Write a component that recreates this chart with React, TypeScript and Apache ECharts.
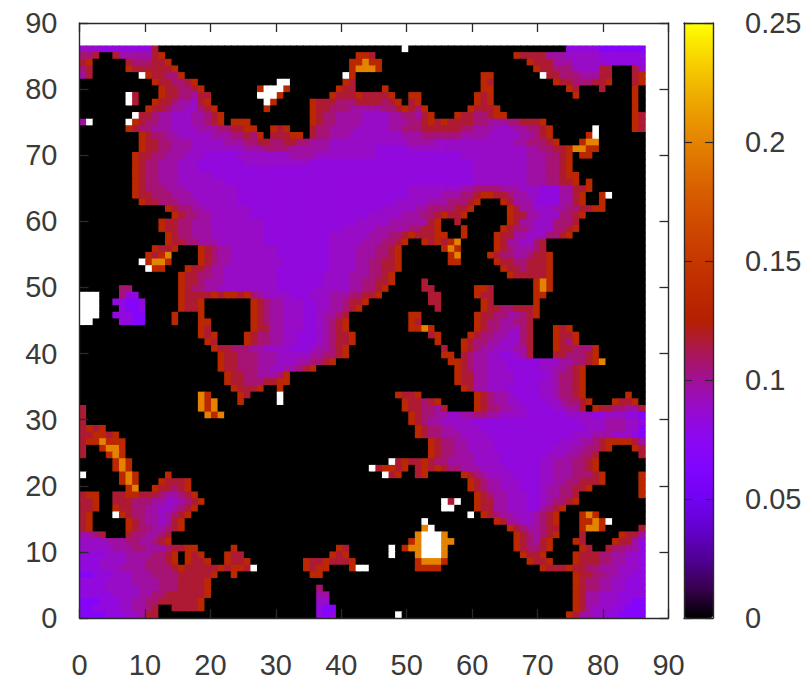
import React, { useEffect, useRef } from "react";
import * as echarts from "echarts";

// Colour-bar palette, bottom to top, in even steps of the bar
const paletteColors = ["#000000","#39004f","#510096","#6301ce","#7202f3","#8004ff","#8c07f3","#970bce","#a11096","#ab174f","#b42000","#bd2a00","#c63700","#ce4600","#d55700","#dd6c00","#e48300","#eb9d00","#f2ba00","#f9db00","#ffff00"];
const xTicks = [0, 90, 10];
const cbTicks = [0, 0.25, 0.05];
// Value of each letter used in the rows below (w lies above the colour range: white)
const levels: Record<string, number> = { ".": 0, f: 0.068, e: 0.082, d: 0.089, c: 0.097, b: 0.106, a: 0.117, o: 0.135, y: 0.2, w: 0.3 };
// Rows from the top (y=85) to the bottom (y=0): letter + first column of the run
const rows = [
"d0 e3 a11 .12 w49 .50 e74 f79",
"b0 a2 .3 a5 c6 a11 o12 .13 o42 a44 .45 o66 a67 c71 d74 e79",
"a0 o1 .2 a7 b8 a11 o13 .14 o41 y43 o44 .46 o68 a69 c72 d75 e80",
"b0 a1 .2 o7 a8 a12 o14 .15 o41 y42 o45 .46 o69 a70 b72 d75 a79 .81 a84 d85",
"c0 a1 .2 w9 o10 a11 b13 o15 .16 w40 o41 .42 o61 .63 w70 a71 b73 c76 a79 .81 a84 o85",
".0 o11 a12 b14 a16 o17 .18 w30 .32 o40 a41 .42 o61 a62 .63 o72 a73 b75 a78 o80 .81 a84 o85",
".0 o12 a13 b15 a17 o18 .19 o27 w28 o31 .32 o39 a40 .42 o46 .47 o61 .63 o74 a75 .76 a79 .80 o84 .85",
".0 w7 a8 .9 o12 a13 b15 c17 a18 .20 w27 o30 .31 o38 a39 o42 a43 o47 .48 o50 .52 o60 a61 o62 .63 o75 .76 o84 .85",
".0 w7 a8 .9 o11 a12 b14 c15 d17 a18 o19 .20 w28 o29 .30 o35 a36 b39 a42 b46 a47 o48 .49 a50 o51 .52 o60 a61 o62 .63 o84 .85",
".0 o10 a11 b13 c14 d16 b18 a19 o20 .21 o28 .29 o35 a36 b38 c41 b46 a48 o49 a50 b51 o52 .53 o59 a60 o63 .64 o84 .85",
".0 w8 a9 b11 c12 d14 c17 b19 a20 o21 .22 o35 a36 b37 c39 d43 c47 b49 c51 a52 o53 .54 o57 a58 b60 a62 o63 .65 o84 a85",
"c0 w1 .2 w7 o8 a9 b10 c12 d14 c17 b19 a20 o21 .22 o23 .26 o35 a36 b37 c39 d43 c47 b50 a52 o53 a54 o55 a56 b60 c62 b65 a67 o70 .71 o84 a85",
".0 o7 a8 b9 c11 d14 c18 b21 a23 o25 .27 o29 a30 o31 .32 a35 b36 c38 d42 c47 b49 a52 b58 c60 d63 c66 b68 a70 o71 .72 w78 .79 o84 a85",
".0 o9 a10 b11 c13 d15 c20 b23 a25 b26 o27 .28 a29 o32 .34 a35 b36 c38 d41 c49 b52 c58 d62 c67 b69 a70 o71 .72 o77 w78 .79",
".0 o9 a10 b12 c14 d17 c22 b25 a27 b29 a31 b33 c35 d38 c50 d54 c66 b68 a71 o72 .73 o76 y77 .79",
".0 o9 a10 b12 c14 d17 c25 b28 c32 d38 e45 d50 c68 b70 a72 o74 y75 o77 .79",
".0 o8 a9 b11 c13 d16 e19 d24 c32 d36 e45 d58 c68 b71 a73 o74 .75 o76 .78",
".0 o8 a9 b10 c12 d15 e18 d25 e35 d60 c68 b71 a73 o74 .75",
".0 o8 a9 b10 c12 d15 e18 d60 c68 b71 a73 o74 .75",
".0 o8 a9 b10 c12 d15 e20 d60 c68 b71 a73 o74 .76",
".0 o8 a9 b10 c12 d15 e22 d60 c68 b71 a73 o75 .76 o77 .78",
".0 o8 a9 b10 c13 d16 e24 d50 c58 b60 c64 d67 e70 c73 a75 o77 .78",
".0 o8 a9 b11 c14 d17 e24 d50 c55 b58 a60 o61 a63 b65 c66 d68 e70 c73 a75 o76 .77 o79 w80 .81",
".0 o9 a10 b12 c15 d18 e24 d48 c53 b56 a59 o60 .61 o64 a65 c66 e69 c73 a75 o76 .77 o79 .80",
".0 o13 a14 b15 c17 d19 e26 d46 c51 b53 a57 o59 .60 o65 a66 c67 d69 c72 b74 a76 o78 .80",
".0 o14 a15 b16 c18 d20 e26 d44 c49 b52 a54 o55 a56 o58 .59 o65 a66 c68 d70 b73 a75 o76 .77",
".0 o12 a13 b15 c17 d20 e28 d42 c47 a53 o54 .55 a57 .58 o65 a66 c67 d69 b72 a75 .76",
".0 o12 a13 b15 c17 d20 e28 d40 c45 b50 a52 o54 .55 o58 .59 o64 a65 b66 c68 d69 b72 a74 o75 .76",
".0 o13 a14 b15 c17 d20 e28 d38 c44 b47 a49 o50 a51 o54 .56 o58 .59 o63 a64 c66 d68 b71 a73 o74 .75",
".0 o13 a14 b16 c18 d21 e28 d38 c43 b46 a48 o49 .50 o52 a53 o54 a55 o56 y57 .58 o63 a64 c65 d67 b69 a70 .71",
".0 o11 a12 o14 .15 o18 a19 b20 c21 d23 e30 d38 c42 b45 a47 o48 .49 o55 y56 o57 .58 o63 a64 b65 c66 b69 a70 .71",
".0 o10 a11 o12 y13 .14 o18 a19 b20 c21 d23 e30 d38 c42 b45 a47 o48 .49 o56 y57 .58 o62 a63 b64 c66 b68 a69 o71 .72",
".0 w9 o10 y11 o13 .14 o18 a19 b20 c21 d23 e31 d38 c42 b44 a46 o48 .49 o56 .58 o63 a64 b66 a68 o71 .72",
".0 w10 o11 .13 o16 a17 b19 c20 d22 e30 d38 c42 b44 a46 o48 .49 o64 a65 b67 a68 o71 .72",
".0 o15 a16 b18 c20 d22 e30 d37 c41 b44 a46 o47 .48 o65 a66 o71 .72",
".0 o15 a16 b18 c19 d22 e30 d37 c41 b43 a45 o47 .48 a52 .53 o69 y70 o71 .72",
".0 b6 .8 o15 a16 b17 c19 d21 e30 d36 c41 b43 a45 o46 .47 a52 .54 o60 a62 .63 o69 y70 o71 .72",
"w0 .3 b6 e7 .9 o15 a16 a19 o20 a21 o22 a24 o25 b26 c27 d28 e32 d35 c38 b41 a43 o45 .46 a53 .55 o60 a61 .63 o69 .71",
"w0 .3 e5 f7 e9 .10 o15 a16 o18 .19 o26 a27 b28 c29 d31 e34 d36 c38 b40 a41 o43 .44 a53 .55 o61 a62 .63 o69 .70",
"w0 .3 e6 f7 e9 .10 o15 a16 o18 .19 o26 a27 b28 c29 d31 e34 d36 c38 b40 a41 o42 .43 a54 .55 o61 a62 b64 a66 o69 .70",
"w0 .3 e5 f8 .10 o14 .15 o18 .19 o26 a27 b28 c29 d31 e34 d36 c37 b39 a40 .41 o50 .52 o60 a61 b63 c65 b67 a68 o69 .70",
"w0 .2 e6 f8 .10 o14 .15 o18 .20 o26 a27 b28 c29 d31 e34 d36 c37 b38 a39 o40 .41 o50 a51 .52 o60 a61 b62 c64 b66 a68 .69",
".0 o18 a19 .20 o26 a27 c29 d31 e34 d36 c37 b38 a39 o40 .41 o50 y52 o53 .54 o60 a61 b62 c64 d66 b67 a68 .69 o72 a73 o74 .75",
".0 o18 a19 o20 .21 o25 a26 b27 c29 d31 e33 d36 c37 b38 a39 o41 .42 a53 o54 .55 o59 a60 b61 c63 d65 b67 a68 .69 o72 a73 o75 .76",
".0 o19 a20 .21 o25 a26 b27 c29 d31 e33 d36 c37 b38 a39 o41 .42 o54 .55 o58 a59 b60 c62 d64 b67 a68 .69 o72 a73 b74 o75 .76",
".0 o20 a21 b23 c26 d28 e32 d35 c36 b38 a39 o40 .41 a55 .56 o58 a59 b60 c61 d63 c66 a68 .69 o72 a73 b75 o78 .79",
".0 o21 a22 b24 c27 d30 c35 b37 a39 o40 .41 o55 .57 a58 b59 c60 d62 e64 d66 c67 a68 .69 a72 b74 a77 o78 .79",
".0 o21 a22 b24 c27 d30 c33 b35 a37 o38 .39 o56 o57 a58 b59 c60 d62 e65 d70 c73 b75 a77 o78 y79 .80",
".0 o21 a22 b24 c27 d29 c31 b33 a34 o35 .36 o57 a58 b59 c60 d62 e65 d70 c72 b74 a75 o76 .77",
".0 o22 a23 b25 c27 b30 o31 .32 o57 a58 c60 d62 e66 d71 c72 b73 a75 o76 .77",
".0 o22 a23 b25 a28 o30 .32 o57 a58 c60 d62 e66 d70 c72 b73 a75 o76 .77",
".0 o23 a24 a26 o27 .28 o30 .31 o58 a59 c60 d62 e65 d70 c72 b73 a75 o76 .77",
".0 y18 o19 .20 o24 a25 .26 w30 .31 o48 a49 o51 .52 o60 a61 b62 c63 d65 e66 d70 c72 b73 a75 o76 .77 o83 .84",
".0 y18 o19 y20 .21 o24 .25 w30 .31 o49 a50 b52 a53 o54 .55 o60 a61 b62 c63 d65 e67 d71 c73 b74 a76 o77 .78 o81 a82 o84 .85",
"a0 .1 y18 o19 y20 .21 o49 a50 b52 c54 a55 .56 o60 a61 b62 c64 d66 e68 d72 c74 b76 a76 .77 o78 a79 b81 c83 a85",
"a0 .1 y19 o20 y21 .22 o50 a51 b52 c54 d56 c58 b60 c62 d64 e68 d74 e78 d80 e83 f85",
"a0 .1 o50 a51 b52 c53 d55 e60 d76 c80 d83 e85",
"a0 o1 a2 o3 .4 o51 a52 b53 c55 d57 e61 d77 c80 d83 f85",
"a0 o2 a4 o5 .6 o51 a52 b53 c55 d58 e62 d75 c78 d81 e84 f85",
"a0 o1 y3 o4 .7 o53 a54 b55 c57 d59 e63 d73 c76 b78 a79 o80 a84 c85",
"a0 .1 o3 y4 o6 .7 o53 a54 b55 c57 d59 e63 d72 c75 b77 a79 o80 .81 o84 a85",
"a0 .1 o4 y5 o6 .7 o53 a54 b55 c57 d60 e64 d71 c74 b76 a78 .79 a85",
".0 o5 y6 o7 .8 w47 a48 o49 a50 o52 a53 b54 c56 d60 e64 d70 c72 b75 a77 o78 .79",
".0 o5 y6 o7 .8 w44 a45 o46 a48 o49 .50 a51 o52 a53 o54 a55 b56 c58 d61 e65 d70 c72 b75 a77 o78 .79",
"w0 .1 o6 y7 o8 .9 o13 .14 w46 a47 o48 .49 a51 o52 .53 o58 a59 b60 c61 d62 e66 d70 c72 b75 a78 o79 .80 o85",
".0 o6 y7 o8 .9 o12 a13 o16 .17 o59 a60 b61 c62 d64 e67 d70 c72 b74 a76 o79 .80 o85",
".0 o7 y8 .9 o11 a12 b14 a15 o16 .17 o59 a60 b61 c62 d64 e67 d70 c71 b73 a75 o77 .78 o85",
"a0 o1 .3 a5 o7 a9 b12 c13 b15 a16 o17 .18 o60 a61 b62 c63 d65 e68 d70 c71 b73 a75 .76 o85",
"a0 o2 .3 a5 b8 c11 d13 c15 b16 a17 o18 .19 w55 a56 w57 .58 o60 a61 c63 d65 e68 d70 c71 b72 a74 o75 .76",
"a0 o2 .3 o5 a6 b8 c10 d12 c14 b15 a16 o17 .18 w55 .57 o60 a61 c63 d65 e68 c70 b71 a72 o73 .74",
"a0 o1 .2 w5 o6 a7 b8 c10 d12 c13 b14 a15 o16 .17 w59 .60 o61 a62 b63 c64 d66 c69 b70 a71 o72 .73 o76 y77 o78 .79",
"a0 o1 .2 o7 a8 b9 c10 d12 c13 a14 o15 .16 w52 .53 o63 a64 c65 d67 c69 b70 a71 o72 .73 o76 y78 o79 w80 .81",
"a0 o1 .2 o7 a8 b9 c11 b13 a14 o15 .16 y52 w53 .54 o65 a66 b67 c68 b70 a71 .73 o76 y77 o79 .80 a85",
"c0 b2 a3 .4 a7 b8 c10 b12 a13 .14 y51 w52 y55 .56 o66 a67 b68 c69 b70 a71 o72 .73 a76 .77 o82 a83 c85",
"d0 c4 b7 c9 b11 a12 o13 .14 o50 y51 w52 y55 .57 o66 a67 b68 c69 a70 o71 .72 o75 a76 .77 o81 a82 c84 e85",
"d0 c5 b8 c10 b13 a14 o16 .18 o23 .24 o39 a40 .41 w47 .48 o49 y50 w52 y55 .56 o66 a67 b68 a70 o71 .72 o76 a77 .78 a80 b81 c83 e85",
"e0 d4 c7 b11 a13 o14 .15 o16 a17 o18 .19 o22 a23 .25 o38 a39 o40 .41 w47 .48 y51 w52 y55 .56 o67 a68 o70 .71 o75 a76 b79 c81 d83 e85",
"e0 d3 c7 b10 a13 o14 .15 o16 a17 o19 .20 o22 a23 o25 .26 o34 a35 o37 a38 o41 .42 o51 y52 o55 .56 o68 a69 o71 .72 o75 a76 b79 c81 d83 e85",
"e0 d3 c6 b10 a14 o15 a16 o21 a22 o23 a25 w26 .27 o34 a35 o36 .38 o41 w42 .44 o51 o52 o53 .55 o70 a71 o74 a75 b77 c79 d82 e85",
"f0 e2 d5 c8 b11 a15 o20 .21 o23 .24 o35 .37 o75 a76 b78 c80 d82 e84",
"e0 d4 c8 b12 a15 o19 .20 o75 a76 b77 c79 d81 e83",
"e0 d4 c9 b12 a15 o19 .20 b36 .37 o75 a76 b77 c79 d81 e83",
"e0 d5 c9 b11 a13 o19 .20 c36 .38 o75 a76 c77 d79 e82",
"f0 e3 d6 c8 b10 a12 o18 .19 d36 .38 o75 a76 c77 d79 e82 f84",
"f0 e2 d6 c8 b10 a11 .12 a14 o18 .19 e36 f37 .39 o75 a76 c77 d78 e81 f83",
"f0 e4 d7 c9 a10 .12 e36 f37 e38 .39 w48 .49 o74 a75 c76 d78 e80 f82",
];
const COLS = 86;
const CELL_X = 86.4 / 86;
const CELL_Y = 86.6 / 86;

const cells: number[][] = [];
rows.forEach((row, r) => {
  const runs = row.split(" ").map((t) => ({ k: t[0], s: Number(t.slice(1)) }));
  runs.forEach((run, n) => {
    const end = n + 1 < runs.length ? runs[n + 1].s : COLS;
    for (let c = run.s; c < end; c++) cells.push([c, rows.length - 1 - r, levels[run.k]]);
  });
});

const ink = "#2a2a2a";
const labelText = { fontFamily: "Liberation Sans", fontSize: 29, color: "#3a3a3a" };
const line = { show: true, onZero: false, lineStyle: { color: ink, width: 1.4 } };

export default function App() {
  const ref = useRef<HTMLDivElement>(null);
  useEffect(() => {
    document.body.style.margin = "0";
    const chart = echarts.init(ref.current!, undefined, { renderer: "svg" });
    const main = { type: "value", min: xTicks[0], max: xTicks[1], interval: xTicks[2], splitLine: { show: false }, axisLine: line, z: 6 };
    const mainTick = { show: true, inside: true, length: 9, lineStyle: { color: ink, width: 1.3 } };
    const bar = { type: "value", min: cbTicks[0], max: cbTicks[1], interval: cbTicks[2], splitLine: { show: false }, axisLine: line, z: 6 };
    const barTick = { show: true, inside: true, length: 8, lineStyle: { color: ink, width: 1.2 } };
    const edge = { type: "value", min: 0, max: 1, splitLine: { show: false }, axisLine: line, axisTick: { show: false }, axisLabel: { show: false }, z: 6 };
    chart.setOption({
      animation: false,
      backgroundColor: "#fff",
      grid: [
        { left: 79.5, top: 23, width: 589, height: 595 },
        { left: 684, top: 23, width: 29, height: 595 },
      ],
      xAxis: [
        { ...main, gridIndex: 0, position: "bottom", axisTick: mainTick, axisLabel: { ...labelText, margin: 32 } },
        { ...main, gridIndex: 0, position: "top", axisTick: mainTick, axisLabel: { show: false } },
        { ...edge, gridIndex: 1, position: "bottom" },
        { ...edge, gridIndex: 1, position: "top" },
      ],
      yAxis: [
        { ...main, gridIndex: 0, position: "left", axisTick: mainTick, axisLabel: { ...labelText, margin: 22 } },
        { ...main, gridIndex: 0, position: "right", axisTick: mainTick, axisLabel: { show: false } },
        { ...bar, gridIndex: 1, position: "left", axisTick: barTick, axisLabel: { show: false } },
        { ...bar, gridIndex: 1, position: "right", axisTick: barTick, axisLabel: { ...labelText, margin: 32 } },
      ],
      visualMap: {
        type: "continuous",
        min: cbTicks[0],
        max: cbTicks[1],
        range: [0, 0.24999],
        dimension: 2,
        seriesIndex: 0,
        calculable: false,
        hoverLink: false,
        left: 684,
        top: 23,
        itemWidth: 29,
        itemHeight: 595,
        padding: 0,
        z: 3,
        inRange: { color: paletteColors },
        outOfRange: { color: "#ffffff" },
      },
      series: [
        {
          type: "custom",
          xAxisIndex: 0,
          yAxisIndex: 0,
          z: 2,
          silent: true,
          data: cells,
          encode: { x: 0, y: 1 },
          renderItem: (_p: any, api: any) => {
            const a = api.coord([api.value(0) * CELL_X, (api.value(1) + 1) * CELL_Y]);
            const b = api.coord([(api.value(0) + 1) * CELL_X, api.value(1) * CELL_Y]);
            return {
              type: "rect",
              shape: { x: a[0], y: a[1], width: b[0] - a[0] + 0.8, height: b[1] - a[1] + 0.8 },
              style: { fill: api.visual("color") },
            };
          },
        },
      ],
    });
    return () => chart.dispose();
  }, []);
  return <div ref={ref} style={{ position: "absolute", left: 0, top: 0, width: 808, height: 684 }} />;
}
